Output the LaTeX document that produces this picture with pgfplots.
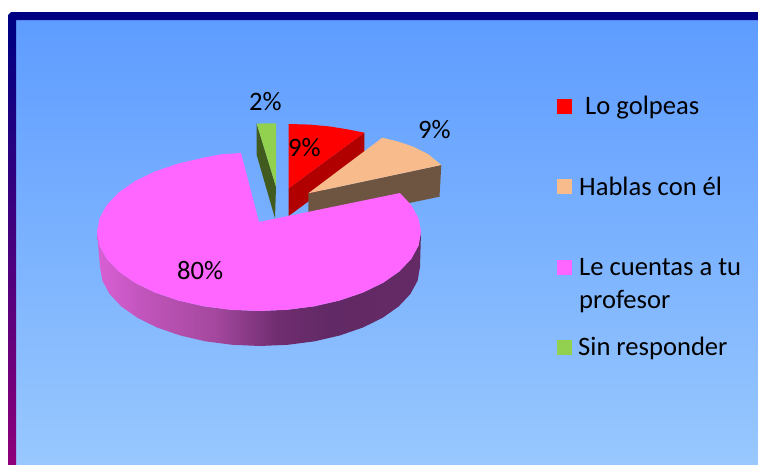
\documentclass[border=0pt]{standalone}
\usepackage{fontspec}
\setmainfont{Carlito}
\usepackage{pgfplots}
\pgfplotsset{compat=1.18}
\definecolor{c1}{RGB}{216,95,213}
\definecolor{c2}{RGB}{192,84,186}
\definecolor{c3}{RGB}{165,72,159}
\definecolor{c4}{RGB}{111,45,111}
\definecolor{c5}{RGB}{97,41,101}
\definecolor{c6}{RGB}{100,42,102}
% the path's box fills the middle 50bp of a pgf shading
\pgfdeclarehorizontalshading{pinkside}{100bp}{color(0bp)=(c1); color(25bp)=(c1); color(32.5bp)=(c2); color(43bp)=(c3); color(53bp)=(c4); color(61bp)=(c5); color(75bp)=(c6); color(100bp)=(c6)}
\definecolor{bgtop}{RGB}{94,156,255}
\definecolor{bgbot}{RGB}{152,200,254}
\definecolor{navy}{RGB}{0,0,130}
\definecolor{plum}{RGB}{142,0,122}
\definecolor{peach}{RGB}{248,188,140}
\definecolor{pinkpie}{RGB}{255,102,255}
\definecolor{greenpie}{RGB}{146,208,80}
\definecolor{reddark}{RGB}{176,0,0}
\definecolor{brownside}{RGB}{110,85,65}
\definecolor{greendark}{RGB}{65,90,30}
\newcommand{\lab}[3]{\node[anchor=base west,inner sep=0pt,font=\fontsize{26.6}{26.6}\selectfont] at (axis cs:#1,#2) {#3};}
\begin{document}
\begin{tikzpicture}
\begin{axis}[
    hide axis, scale only axis, width=758pt, height=464pt,
    xmin=0, xmax=758, ymin=0, ymax=464, y dir=reverse,
    clip=false, no markers,
    every axis plot/.append style={draw=none, line width=0pt},
]
% page margin, keeps the white strip at top and left
\addplot[fill=white] coordinates {(0,0) (758,0) (758,464) (0,464)};
% background and frame
\addplot[top color=bgtop, bottom color=bgbot] coordinates {(16,20) (758,20) (758,464) (16,464)};
\addplot[fill=navy] coordinates {(11,12) (758,12) (758,20) (16,20) (16,30) (8,30) (8,15)};
\addplot[top color=navy, bottom color=plum] coordinates {(8,30) (16,30) (16,464) (8,464)};
% red slice
\addplot[fill=reddark] coordinates {(288.7,188.3) (364.3,132.7) (364.3,160) (288.7,216)};
\addplot[fill=red] coordinates {(288.7,188.3) (288.7,124) (310,124.6) (330,126.5) (348,129.4) (364.3,132.7)};
% peach slice
\addplot[fill=brownside] coordinates {(308.3,193.3) (441.3,165) (439.5,196.7) (308.3,224)};
\addplot[fill=peach] coordinates {(308.3,193.3) (382.3,137.7) (398,141.5) (413.3,146.7) (428,154) (441.3,165)};
% green slice
\addplot[fill=greendark] coordinates {(256.7,123.7) (256.7,155) (275,218.3) (276,186.7)};
\addplot[fill=greenpie] coordinates {(256.7,123.7) (266,123.3) (276,123.3) (276,186.7)};
% pink slice
\addplot[shading=pinkside] coordinates {
  (97,232) (99.5,245.7) (106.8,259) (118.7,271.5) (134.9,282.8) (154.9,292.5) (178,300.4)
  (203.6,306.3) (230.9,309.8) (259,311) (287.1,309.8) (314.4,306.3) (340,300.4) (363.1,292.5)
  (383.1,282.8) (399.3,271.5) (411.2,259) (418.5,245.7) (421,232)
  (420,267) (417.6,280.7) (410.4,294) (398.6,306.5) (382.6,317.8) (362.9,327.5) (340,335.4)
  (314.7,341.3) (287.8,344.8) (260,346) (232.2,344.8) (205.3,341.3) (180,335.4) (157.1,327.5)
  (137.4,317.8) (121.4,306.5) (109.6,294) (102.4,280.7) (100,267)};
\addplot[fill=pinkpie] coordinates {
  (259,222) (241,153) (222,154.2) (203.6,157.7) (178,163.6) (154.9,171.5) (134.9,181.2)
  (118.7,192.5) (106.8,205) (99.5,218.3) (97,232) (99.5,245.7) (106.8,259) (118.7,271.5)
  (134.9,282.8) (154.9,292.5) (178,300.4) (203.6,306.3) (230.9,309.8) (259,311) (287.1,309.8)
  (314.4,306.3) (340,300.4) (363.1,292.5) (383.1,282.8) (399.3,271.5) (411.2,259) (418.5,245.7)
  (421,232) (418.5,218.3) (411.2,205) (400,193)};
% legend keys
\addplot[fill=red] coordinates {(557.3,99) (572,99) (572,114) (557.3,114)};
\addplot[fill=peach] coordinates {(557.3,179) (572,179) (572,194) (557.3,194)};
\addplot[fill=pinkpie] coordinates {(557.3,260) (572,260) (572,275) (557.3,275)};
\addplot[fill=greenpie] coordinates {(557.3,340) (572,340) (572,355) (557.3,355)};
% legend text
\lab{585}{114}{Lo golpeas}
\lab{579}{195}{Hablas con él}
\lab{579}{275}{Le cuentas a tu}
\lab{579}{308}{profesor}
\lab{578}{355}{Sin responder}
% data labels
\lab{249}{110}{2\%}
\lab{418}{138}{9\%}
\lab{288}{156}{9\%}
\lab{177}{279}{80\%}
\end{axis}
\end{tikzpicture}
\end{document}
